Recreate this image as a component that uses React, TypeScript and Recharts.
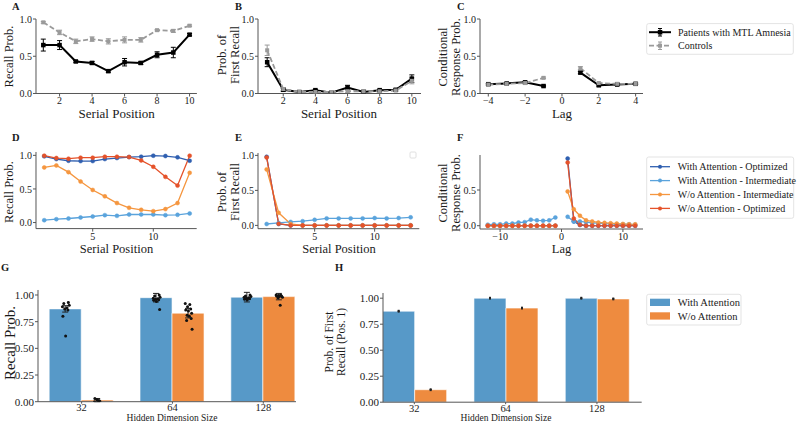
import React from 'react';
import { LineChart, Line, XAxis, YAxis, ErrorBar, ComposedChart, Bar, Scatter } from 'recharts';

const FONT = "'Liberation Serif', 'DejaVu Serif', 'Noto Serif', serif";

// ---------- A–C: patients with MTL amnesia vs. controls ----------
const serialPos10 = [1, 2, 3, 4, 5, 6, 7, 8, 9, 10];
const patRecall = [0.65, 0.65, 0.43, 0.41, 0.3, 0.42, 0.41, 0.52, 0.55, 0.79];
const patRecallErr = [0.08, 0.06, 0.012, 0.02, 0.015, 0.05, 0.02, 0.04, 0.07, 0.015];
const ctlRecall = [0.955, 0.82, 0.7, 0.73, 0.7, 0.72, 0.72, 0.85, 0.84, 0.91];
const ctlRecallErr = [0.012, 0.03, 0.03, 0.03, 0.035, 0.04, 0.03, 0.01, 0.02, 0.01];

const patFirst = [0.42, 0.05, 0.02, 0.045, 0.01, 0.08, 0.02, 0.045, 0.05, 0.2];
const patFirstErr = [0.06, 0.02, 0.01, 0.01, 0.01, 0.03, 0.01, 0.01, 0.015, 0.05];
const ctlFirst = [0.58, 0.06, 0.02, 0.02, 0.02, 0.03, 0.03, 0.03, 0.04, 0.17];
const ctlFirstErr = [0.07, 0.02, 0.01, 0.01, 0.01, 0.02, 0.02, 0.01, 0.01, 0.04];

const lags4 = [-4, -3, -2, -1, 0, 1, 2, 3, 4];
const patCrp = [0.125, 0.135, 0.15, 0.1, null, 0.28, 0.11, 0.12, 0.13];
const patCrpErr = [0.01, 0.01, 0.012, 0.01, null, 0.015, 0.01, 0.01, 0.01];
const ctlCrp = [0.12, 0.13, 0.14, 0.21, null, 0.34, 0.14, 0.13, 0.13];
const ctlCrpErr = [0.01, 0.01, 0.01, 0.01, null, 0.02, 0.01, 0.01, 0.01];

// ---------- D–F: model variants ----------
const serialPos13 = [1, 2, 3, 4, 5, 6, 7, 8, 9, 10, 11, 12, 13];
const withOptRecall = [0.985, 0.945, 0.92, 0.915, 0.915, 0.945, 0.96, 0.975, 0.98, 0.995, 0.99, 0.97, 0.92];
const withIntRecall = [0.035, 0.05, 0.06, 0.075, 0.09, 0.11, 0.1, 0.12, 0.12, 0.12, 0.11, 0.115, 0.135];
const woIntRecall = [0.82, 0.85, 0.75, 0.61, 0.485, 0.39, 0.29, 0.22, 0.19, 0.17, 0.2, 0.29, 0.74];
const woOptRecall = [0.995, 0.96, 0.95, 0.965, 0.965, 0.98, 0.98, 0.975, 0.925, 0.83, 0.68, 0.55, 0.995];

const withOptFirst = [0.98, 0.02, 0, 0, 0, 0, 0, 0, 0, 0, 0, 0, 0];
const withIntFirst = [0.02, 0.035, 0.05, 0.06, 0.08, 0.1, 0.1, 0.1, 0.1, 0.105, 0.1, 0.105, 0.115];
const woIntFirst = [0.8, 0.18, 0.02, 0, 0, 0, 0, 0, 0, 0, 0, 0, 0];
const woOptFirst = [0.97, 0.025, 0, 0, 0, 0, 0, 0, 0, 0, 0, 0, 0];

const lags12 = [-12, -11, -10, -9, -8, -7, -6, -5, -4, -3, -2, -1, 0, 1, 2, 3, 4, 5, 6, 7, 8, 9, 10, 11, 12];
const withOptCrp = [0, 0, 0, 0, 0, 0, 0, 0, 0, 0, 0, 0, null, 0.94, 0.06, 0.01, 0, 0, 0, 0, 0, 0, 0, 0, 0];
const withIntCrp = [0.015, 0.02, 0.02, 0.03, 0.03, 0.045, 0.05, 0.085, 0.075, 0.07, 0.075, 0.115, null,
  0.125, 0.06, 0.06, 0.05, 0.04, 0.035, 0.03, 0.025, 0.02, 0.02, 0.02, 0.015];
const woIntCrp = [0, 0, 0, 0, 0, 0, 0, 0, 0, 0, 0, 0, null,
  0.48, 0.23, 0.14, 0.075, 0.06, 0.045, 0.04, 0.035, 0.03, 0.025, 0.02, 0.02];
const woOptCrp = [0, 0, 0, 0, 0, 0, 0, 0, 0, 0, 0, 0, null, 0.885, 0.1, 0.015, 0, 0, 0, 0, 0, 0, 0, 0, 0];

// ---------- G–H: hidden dimension size ----------
const hiddenDims = ['32', '64', '128'];
const recallWith = [0.87, 0.975, 0.98];
const recallWithErr = [0.03, 0.04, 0.045];
const recallWo = [0.015, 0.83, 0.985];
const recallWoErr = [0.015, 0.045, 0.03];

// individual runs per hidden size
const runsWith = [
  [0.93, 0.92, 0.905, 0.89, 0.88, 0.87, 0.86, 0.8, 0.615],
  [1.0, 0.99, 0.98, 0.97, 0.965, 0.96, 0.955, 0.95, 0.94, 0.865],
  [1.0, 0.99, 0.985, 0.98, 0.975, 0.97, 0.965, 0.96, 0.955],
];
const runsWo = [
  [0.0, 0.01, 0.02, 0.005, 0.03, 0.01],
  [0.92, 0.91, 0.89, 0.87, 0.86, 0.85, 0.83, 0.81, 0.8, 0.78, 0.76, 0.68],
  [1.0, 1.0, 0.995, 0.99, 0.99, 0.985, 0.98, 0.975, 0.905],
];
// horizontal jitter of the run markers, in category units
const jitter = [0.03, -0.02, 0.04, -0.035, 0.015, -0.01, 0.025, -0.03, 0.0, 0.035, -0.015, 0.01];

const firstWith = [0.875, 1.0, 1.0];
const firstWithErr = [0.004, 0.004, 0.004];
const firstWo = [0.12, 0.905, 0.993];
const firstWoErr = [0.004, 0.004, 0.004];

// ---------- styling ----------
const C_OPT_W = '#2f5fb0';
const C_INT_W = '#5aa3dc';
const C_INT_WO = '#f5963f';
const C_OPT_WO = '#e5522a';
const C_BAR_BLUE = '#5799c8';
const C_BAR_ORANGE = '#ee8b3f';
const C_CTL = '#9a9a9a';
const AXIS = { stroke: '#555', strokeWidth: 1 };
const INK = '#1a1a1a';

type Box = { l: number; r: number; t: number; b: number };
const PAD = { l: 40, r: 10, t: 10, b: 30 };

const BOX_A: Box = { l: 36.4, r: 197.3, t: 19, b: 93.5 };
const BOX_B: Box = { l: 258, r: 421, t: 19, b: 93.5 };
const BOX_C: Box = { l: 480, r: 643, t: 19, b: 93.5 };
const BOX_D: Box = { l: 36, r: 196.7, t: 151.7, b: 228.3 };
const BOX_E: Box = { l: 258.3, r: 419.6, t: 153.3, b: 229 };
const BOX_F: Box = { l: 480, r: 643, t: 155, b: 229 };
const BOX_G: Box = { l: 38, r: 296, t: 290, b: 401.7 };
const BOX_H: Box = { l: 383, r: 641.7, t: 292.5, b: 401.7 };

function frame(box: Box) {
  return {
    style: { position: 'absolute' as const, left: box.l - PAD.l, top: box.t - PAD.t },
    width: box.r - box.l + PAD.l + PAD.r,
    height: box.b - box.t + PAD.b + PAD.t,
    margin: { top: PAD.t, right: PAD.r, left: 0, bottom: 0 },
  };
}

const fmt1 = (v: number) => v.toFixed(1);
const fmt2 = (v: number) => v.toFixed(2);
const fmtInt = (v: number) => (v < 0 ? `\u2212${Math.abs(v)}` : `${v}`);

const squareDot = (size: number, fill: string) => (p: any) => {
  if (p.cx == null || p.cy == null || p.value == null) return <g key={`s-${p.index}`} />;
  return <rect key={`s-${p.index}`} x={p.cx - size / 2} y={p.cy - size / 2} width={size} height={size} fill={fill} />;
};

type Series = { key: string; color: string; width: number; dash?: string; dot: any; errKey?: string };

function LinePanel(props: {
  box: Box; data: any[]; xDomain: [number, number]; yDomain: [number, number];
  xTicks: number[]; yTicks: number[]; series: Series[]; xTickMargin: number; fontSize: number;
}) {
  const f = frame(props.box);
  const tick = { fontSize: props.fontSize, fontFamily: FONT, fill: INK };
  return (
    <div style={f.style}>
      <LineChart width={f.width} height={f.height} data={props.data} margin={f.margin}>
        <XAxis type="number" dataKey="x" domain={props.xDomain} ticks={props.xTicks} allowDataOverflow interval={0}
          tickFormatter={fmtInt} height={PAD.b} tickSize={3} tickMargin={props.xTickMargin} tick={tick}
          axisLine={AXIS} tickLine={AXIS} />
        <YAxis type="number" domain={props.yDomain} ticks={props.yTicks} allowDataOverflow interval={0}
          tickFormatter={fmt1} width={PAD.l} tickSize={3} tickMargin={1} tick={tick} axisLine={AXIS} tickLine={AXIS} />
        {props.series.map((s) => (
          <Line key={s.key} type="linear" dataKey={s.key} stroke={s.color} strokeWidth={s.width}
            strokeDasharray={s.dash} dot={s.dot} activeDot={false} isAnimationActive={false}>
            {s.errKey ? (
              <ErrorBar dataKey={s.errKey} width={2.5} stroke={s.color} strokeWidth={1} direction="y"
                isAnimationActive={false} />
            ) : null}
          </Line>
        ))}
      </LineChart>
    </div>
  );
}

function BarPanel(props: {
  box: Box; xDomain: [number, number]; yDomain: [number, number];
  withVals: number[]; withErr: number[]; woVals: number[]; woErr: number[];
  runs?: { w: number[][]; wo: number[][] }; errWidth: number; errStroke: number;
}) {
  const f = frame(props.box);
  const barSize = 32;
  const pxPerUnit = (props.box.r - props.box.l) / (props.xDomain[1] - props.xDomain[0]);
  const shift = barSize / 2 / pxPerUnit;
  const rows = hiddenDims.map((_, i) => ({
    x: i, withAttn: props.withVals[i], withErr: props.withErr[i], woAttn: props.woVals[i], woErr: props.woErr[i],
  }));
  const pts: { x: number; y: number }[] = [];
  if (props.runs) {
    props.runs.w.forEach((vals, i) => vals.forEach((v, j) => pts.push({ x: i - shift + jitter[j % jitter.length], y: v })));
    props.runs.wo.forEach((vals, i) => vals.forEach((v, j) => pts.push({ x: i + shift + jitter[(j + 3) % jitter.length], y: v })));
  }
  const tick = { fontSize: 11, fontFamily: FONT, fill: INK };
  return (
    <div style={f.style}>
      <ComposedChart width={f.width} height={f.height} data={rows} margin={f.margin} barGap={0} barCategoryGap={0}>
        <XAxis type="number" dataKey="x" domain={props.xDomain} ticks={[0, 1, 2]} allowDataOverflow interval={0}
          tickFormatter={(v: number) => hiddenDims[v] ?? ''} height={PAD.b} tickSize={2} tickMargin={0}
          tick={{ ...tick, fontSize: 10.5 }} axisLine={AXIS} tickLine={AXIS} />
        <XAxis xAxisId="runs" type="number" dataKey="x" domain={props.xDomain} allowDataOverflow hide />
        <YAxis type="number" domain={props.yDomain} ticks={[0, 0.25, 0.5, 0.75, 1]} allowDataOverflow interval={0}
          tickFormatter={fmt2} width={PAD.l} tickSize={3} tickMargin={1} tick={tick} axisLine={AXIS} tickLine={AXIS} />
        <Bar dataKey="withAttn" barSize={barSize} fill={C_BAR_BLUE} stroke="#ffffff" strokeOpacity={0.6} strokeWidth={1}
          isAnimationActive={false}>
          <ErrorBar dataKey="withErr" width={props.errWidth} stroke="#222" strokeWidth={props.errStroke} direction="y"
            isAnimationActive={false} />
        </Bar>
        <Bar dataKey="woAttn" barSize={barSize} fill={C_BAR_ORANGE} stroke="#ffffff" strokeOpacity={0.6} strokeWidth={1}
          isAnimationActive={false}>
          <ErrorBar dataKey="woErr" width={props.errWidth} stroke="#222" strokeWidth={props.errStroke} direction="y"
            isAnimationActive={false} />
        </Bar>
        {props.runs ? (
          <Scatter xAxisId="runs" data={pts} dataKey="y" isAnimationActive={false}
            shape={(p: any) => <circle cx={p.cx} cy={p.cy} r={1.5} fill="#111" />} />
        ) : null}
      </ComposedChart>
    </div>
  );
}

function YTitle({ x, y, size, children }: { x: number; y: number; size: number; children: React.ReactNode }) {
  return (
    <text transform={`translate(${x},${y}) rotate(-90)`} textAnchor="middle" dominantBaseline="central"
      fontSize={size} fill={INK} style={{ fontFamily: FONT }}>{children}</text>
  );
}
function XTitle({ x, y, size, children }: { x: number; y: number; size: number; children: React.ReactNode }) {
  return (
    <text x={x} y={y} textAnchor="middle" dominantBaseline="central" fontSize={size} fill={INK}
      style={{ fontFamily: FONT }}>{children}</text>
  );
}
function Letter({ x, y, children }: { x: number; y: number; children: React.ReactNode }) {
  return <text x={x} y={y} fontSize={10.5} fontWeight="bold" fill={INK} style={{ fontFamily: FONT }}>{children}</text>;
}
function LegendText({ x, y, size, children }: { x: number; y: number; size: number; children: React.ReactNode }) {
  return (
    <text x={x} y={y} dominantBaseline="central" fontSize={size} fill={INK} style={{ fontFamily: FONT }}>{children}</text>
  );
}

export default function App() {
  const dataA = serialPos10.map((x, i) => ({ x, pat: patRecall[i], patErr: patRecallErr[i], ctl: ctlRecall[i], ctlErr: ctlRecallErr[i] }));
  const dataB = serialPos10.map((x, i) => ({ x, pat: patFirst[i], patErr: patFirstErr[i], ctl: ctlFirst[i], ctlErr: ctlFirstErr[i] }));
  const dataC = lags4.map((x, i) => ({ x, pat: patCrp[i], patErr: patCrpErr[i], ctl: ctlCrp[i], ctlErr: ctlCrpErr[i] }));
  const dataD = serialPos13.map((x, i) => ({ x, wo: withOptRecall[i], wi: withIntRecall[i], oi: woIntRecall[i], oo: woOptRecall[i] }));
  const dataE = serialPos13.map((x, i) => ({ x, wo: withOptFirst[i], wi: withIntFirst[i], oi: woIntFirst[i], oo: woOptFirst[i] }));
  const dataF = lags12.map((x, i) => ({ x, wo: withOptCrp[i], wi: withIntCrp[i], oi: woIntCrp[i], oo: woOptCrp[i] }));

  const humanSeries: Series[] = [
    { key: 'pat', color: '#000', width: 2, dot: squareDot(4.5, '#000'), errKey: 'patErr' },
    { key: 'ctl', color: C_CTL, width: 1.8, dash: '5 2.5', dot: squareDot(4, C_CTL), errKey: 'ctlErr' },
  ];
  const circ = (c: string) => ({ r: 2, fill: c, stroke: c, strokeWidth: 0.5 });
  const modelSeries: Series[] = [
    { key: 'wo', color: C_OPT_W, width: 1.3, dot: circ(C_OPT_W) },
    { key: 'wi', color: C_INT_W, width: 1.3, dot: circ(C_INT_W) },
    { key: 'oi', color: C_INT_WO, width: 1.3, dot: circ(C_INT_WO) },
    { key: 'oo', color: C_OPT_WO, width: 1.3, dot: circ(C_OPT_WO) },
  ];

  const legendModel = [
    { label: 'With Attention - Optimized', color: C_OPT_W },
    { label: 'With Attention - Intermediate', color: C_INT_W },
    { label: 'W/o Attention - Intermediate', color: C_INT_WO },
    { label: 'W/o Attention - Optimized', color: C_OPT_WO },
  ];

  return (
    <div style={{ position: 'absolute', left: 0, top: 0, width: 800, height: 423, background: '#fff', overflow: 'hidden', fontFamily: FONT }}>
      <LinePanel box={BOX_A} data={dataA} xDomain={[0.55, 10.45]} yDomain={[0, 1]} xTicks={[2, 4, 6, 8, 10]}
        yTicks={[0, 0.5, 1]} series={humanSeries} xTickMargin={0} fontSize={10} />
      <LinePanel box={BOX_B} data={dataB} xDomain={[0.43, 10.57]} yDomain={[0, 1]} xTicks={[2, 4, 6, 8, 10]}
        yTicks={[0, 0.5, 1]} series={humanSeries} xTickMargin={0} fontSize={10} />
      <LinePanel box={BOX_C} data={dataC} xDomain={[-4.45, 4.4]} yDomain={[0, 1]} xTicks={[-4, -2, 0, 2, 4]}
        yTicks={[0, 0.5, 1]} series={humanSeries} xTickMargin={0} fontSize={10} />
      <LinePanel box={BOX_D} data={dataD} xDomain={[0.32, 13.58]} yDomain={[-0.09, 1.05]} xTicks={[5, 10]}
        yTicks={[0, 0.5, 1]} series={modelSeries} xTickMargin={1} fontSize={10} />
      <LinePanel box={BOX_E} data={dataE} xDomain={[0.28, 13.72]} yDomain={[-0.047, 1.034]} xTicks={[5, 10]}
        yTicks={[0, 0.5, 1]} series={modelSeries} xTickMargin={1} fontSize={10} />
      <LinePanel box={BOX_F} data={dataF} xDomain={[-13.27, 13.27]} yDomain={[-0.046, 0.99]} xTicks={[-10, 0, 10]}
        yTicks={[0, 0.5]} series={modelSeries} xTickMargin={1} fontSize={10} />
      <BarPanel box={BOX_G} xDomain={[-0.48, 2.36]} yDomain={[0, 1.047]} withVals={recallWith} withErr={recallWithErr}
        woVals={recallWo} woErr={recallWoErr} runs={{ w: runsWith, wo: runsWo }} errWidth={3} errStroke={1} />
      <BarPanel box={BOX_H} xDomain={[-0.343, 2.49]} yDomain={[0, 1.05]} withVals={firstWith} withErr={firstWithErr}
        woVals={firstWo} woErr={firstWoErr} errWidth={1} errStroke={2} />

      <svg width={800} height={423} style={{ position: 'absolute', left: 0, top: 0, pointerEvents: 'none', fontFamily: FONT }}>
        <Letter x={12} y={9.5}>A</Letter>
        <Letter x={235} y={9.5}>B</Letter>
        <Letter x={457} y={9.5}>C</Letter>
        <Letter x={12} y={141}>D</Letter>
        <Letter x={235} y={141}>E</Letter>
        <Letter x={457} y={141}>F</Letter>
        <Letter x={1} y={270.5}>G</Letter>
        <Letter x={335} y={270.5}>H</Letter>

        <YTitle x={9} y={56.5} size={12.5}>Recall Prob.</YTitle>
        <XTitle x={116.7} y={113} size={13}>Serial Position</XTitle>
        <YTitle x={222.3} y={55} size={12.5}>Prob. of</YTitle>
        <YTitle x={234.5} y={55} size={12.5}>First Recall</YTitle>
        <XTitle x={339} y={113} size={13}>Serial Position</XTitle>
        <YTitle x={443.3} y={57} size={12.5}>Conditional</YTitle>
        <YTitle x={456.3} y={57} size={12.5}>Response Prob.</YTitle>
        <XTitle x={562} y={113} size={13}>Lag</XTitle>

        <YTitle x={9} y={192} size={12.5}>Recall Prob.</YTitle>
        <XTitle x={116.5} y={248.5} size={12.5}>Serial Position</XTitle>
        <YTitle x={222.3} y={192} size={12.5}>Prob. of</YTitle>
        <YTitle x={234.5} y={192} size={12.5}>First Recall</YTitle>
        <XTitle x={339} y={248.5} size={12.5}>Serial Position</XTitle>
        <YTitle x={443.3} y={193} size={12.5}>Conditional</YTitle>
        <YTitle x={456.3} y={193} size={12.5}>Response Prob.</YTitle>
        <XTitle x={561.5} y={248.5} size={12.5}>Lag</XTitle>

        <YTitle x={10} y={343} size={15}>Recall Prob.</YTitle>
        <XTitle x={172} y={417.8} size={9.5}>Hidden Dimension Size</XTitle>
        <YTitle x={329} y={342} size={11.5}>Prob. of First</YTitle>
        <YTitle x={341} y={342} size={11.5}>Recall (Pos. 1)</YTitle>
        <XTitle x={506} y={417.8} size={9.5}>Hidden Dimension Size</XTitle>

        {/* legend: patients vs controls */}
        <rect x={646.7} y={23.6} width={146.6} height={30.7} rx={2} fill="#fff" stroke="#dcdcdc" strokeWidth={0.8} />
        <g>
          <line x1={649} x2={671} y1={32.2} y2={32.2} stroke="#000" strokeWidth={2} />
          <line x1={660} x2={660} y1={28.5} y2={36} stroke="#000" strokeWidth={1} />
          <line x1={658} x2={662} y1={28.5} y2={28.5} stroke="#000" strokeWidth={1} />
          <line x1={658} x2={662} y1={36} y2={36} stroke="#000" strokeWidth={1} />
          <rect x={657.8} y={30} width={4.5} height={4.5} fill="#000" />
          <LegendText x={678} y={32.2} size={10}>Patients with MTL Amnesia</LegendText>
        </g>
        <g>
          <line x1={649} x2={671} y1={45.7} y2={45.7} stroke={C_CTL} strokeWidth={1.8} strokeDasharray="5 2.5" />
          <line x1={660} x2={660} y1={42} y2={49.5} stroke={C_CTL} strokeWidth={1} />
          <line x1={658} x2={662} y1={42} y2={42} stroke={C_CTL} strokeWidth={1} />
          <line x1={658} x2={662} y1={49.5} y2={49.5} stroke={C_CTL} strokeWidth={1} />
          <rect x={658} y={43.7} width={4} height={4} fill={C_CTL} />
          <LegendText x={678} y={45.7} size={10}>Controls</LegendText>
        </g>

        {/* empty legend frame in E */}
        <rect x={410} y={152} width={6} height={6} rx={1} fill="#fff" stroke="#d8d8d8" strokeWidth={0.8} />

        {/* legend: model variants */}
        <rect x={646.7} y={157} width={147} height={61.3} rx={2} fill="#fff" stroke="#dcdcdc" strokeWidth={0.8} />
        {legendModel.map((m, i) => {
          const y = 166.7 + i * 13.9;
          return (
            <g key={m.label}>
              <line x1={650} x2={670} y1={y} y2={y} stroke={m.color} strokeWidth={1.3} />
              <circle cx={660} cy={y} r={2} fill={m.color} />
              <LegendText x={677.7} y={y} size={10}>{m.label}</LegendText>
            </g>
          );
        })}

        {/* legend: attention */}
        <rect x={646.7} y={294.3} width={94.3} height={30.7} rx={2} fill="#fff" stroke="#dcdcdc" strokeWidth={0.8} />
        <rect x={650} y={298.7} width={20} height={7.3} fill={C_BAR_BLUE} />
        <LegendText x={677.7} y={302.5} size={10.5}>With Attention</LegendText>
        <rect x={650} y={312.3} width={20} height={7.3} fill={C_BAR_ORANGE} />
        <LegendText x={677.7} y={316} size={10.5}>W/o Attention</LegendText>
      </svg>
    </div>
  );
}
